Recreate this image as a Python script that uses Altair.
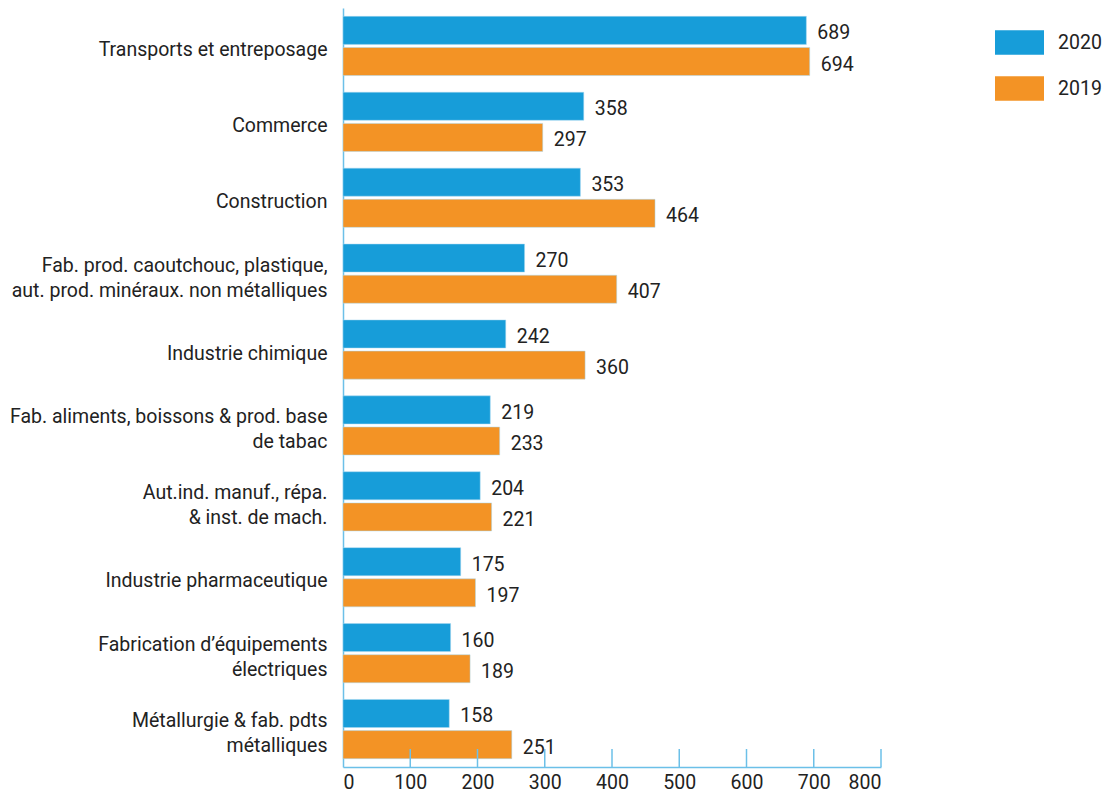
import altair as alt
import pandas as pd

categories = [
    "Transports et entreposage",
    "Commerce",
    "Construction",
    "Fab. prod. caoutchouc, plastique,|aut. prod. minéraux. non métalliques",
    "Industrie chimique",
    "Fab. aliments, boissons & prod. base|de tabac",
    "Aut.ind. manuf., répa.|& inst. de mach.",
    "Industrie pharmaceutique",
    "Fabrication d’équipements|électriques",
    "Métallurgie & fab. pdts|métalliques",
]
values_2020 = [689, 358, 353, 270, 242, 219, 204, 175, 160, 158]
values_2019 = [694, 297, 464, 407, 360, 233, 221, 197, 189, 251]
years = ["2020", "2019"]
x_labels = [0, 100, 200, 300, 400, 500, 600, 700, 800]
x_ticks = [100, 200, 300, 400, 500, 600, 700, 800]

rows = []
for c, a, b in zip(categories, values_2020, values_2019):
    rows.append({"cat": c, "year": "2020", "value": a})
    rows.append({"cat": c, "year": "2019", "value": b})
df = pd.DataFrame(rows)
ticks_df = pd.DataFrame({"t": x_ticks})

W, H = 538, 759
AXIS_BLUE = "#6CC0E8"
TXT = "#222222"
FS = 19.5

xscale = alt.Scale(domain=[0, 800], nice=False)

y = alt.Y(
    "cat:N",
    sort=categories,
    scale=alt.Scale(paddingInner=0.22, paddingOuter=0.11),
    axis=alt.Axis(
        title=None,
        labelExpr="split(datum.label, '|')",
        ticks=False,
        labelFontSize=FS,
        labelColor=TXT,
        labelPadding=16,
        labelOffset={"condition": {"test": "indexof(datum.value, '|') >= 0", "value": -8}, "value": 4},
        domainColor=AXIS_BLUE,
        domainWidth=1.5,
        labelLineHeight=25,
        labelLimit=400,
    ),
)
yoff = alt.YOffset("year:N", sort=years, scale=alt.Scale(paddingInner=0.1))
x = alt.X(
    "value:Q",
    scale=xscale,
    axis=alt.Axis(
        title=None,
        values=x_labels,
        ticks=False,
        grid=False,
        labelFontSize=FS,
        labelColor=TXT,
        labelPadding=6,
        domainColor=AXIS_BLUE,
        domainWidth=1.5,
    ),
)
color = alt.Color(
    "year:N",
    sort=years,
    scale=alt.Scale(domain=years, range=["#179DD9", "#F39325"]),
    legend=alt.Legend(
        title=None,
        orient="none",
        legendX=652,
        legendY=10,
        padding=0,
        symbolType="M-1,-0.5H1V0.5H-1Z",
        symbolSize=2401,
        symbolStrokeWidth=0,
        labelFontSize=FS,
        labelColor=TXT,
        labelOffset=14,
        rowPadding=9,
    ),
)

base = alt.Chart(df)
bars = base.mark_bar(stroke="#A8D8F0", strokeWidth=0.5).encode(
    y=y, yOffset=yoff, x=x, color=color
)
labels = base.mark_text(align="left", baseline="middle", dx=11, dy=3, fontSize=FS, color=TXT).encode(
    y=y, yOffset=yoff, x=alt.X("value:Q", scale=xscale), text="value:Q"
)
tick_rules = alt.Chart(ticks_df).mark_rule(color=AXIS_BLUE, strokeWidth=1.5).encode(
    x=alt.X("t:Q", scale=xscale), y=alt.value(H - 18), y2=alt.value(H)
)

chart = (
    alt.layer(bars, labels, tick_rules)
    .properties(
        width=W,
        height=H,
        autosize=alt.AutoSizeParams(type="none"),
        padding={"left": 335, "top": 0, "right": 225, "bottom": 30},
    )
    .configure(font="Roboto")
    .configure_view(stroke=None)
)

chart.save("out.html", embed_options={"renderer": "svg", "actions": False})
